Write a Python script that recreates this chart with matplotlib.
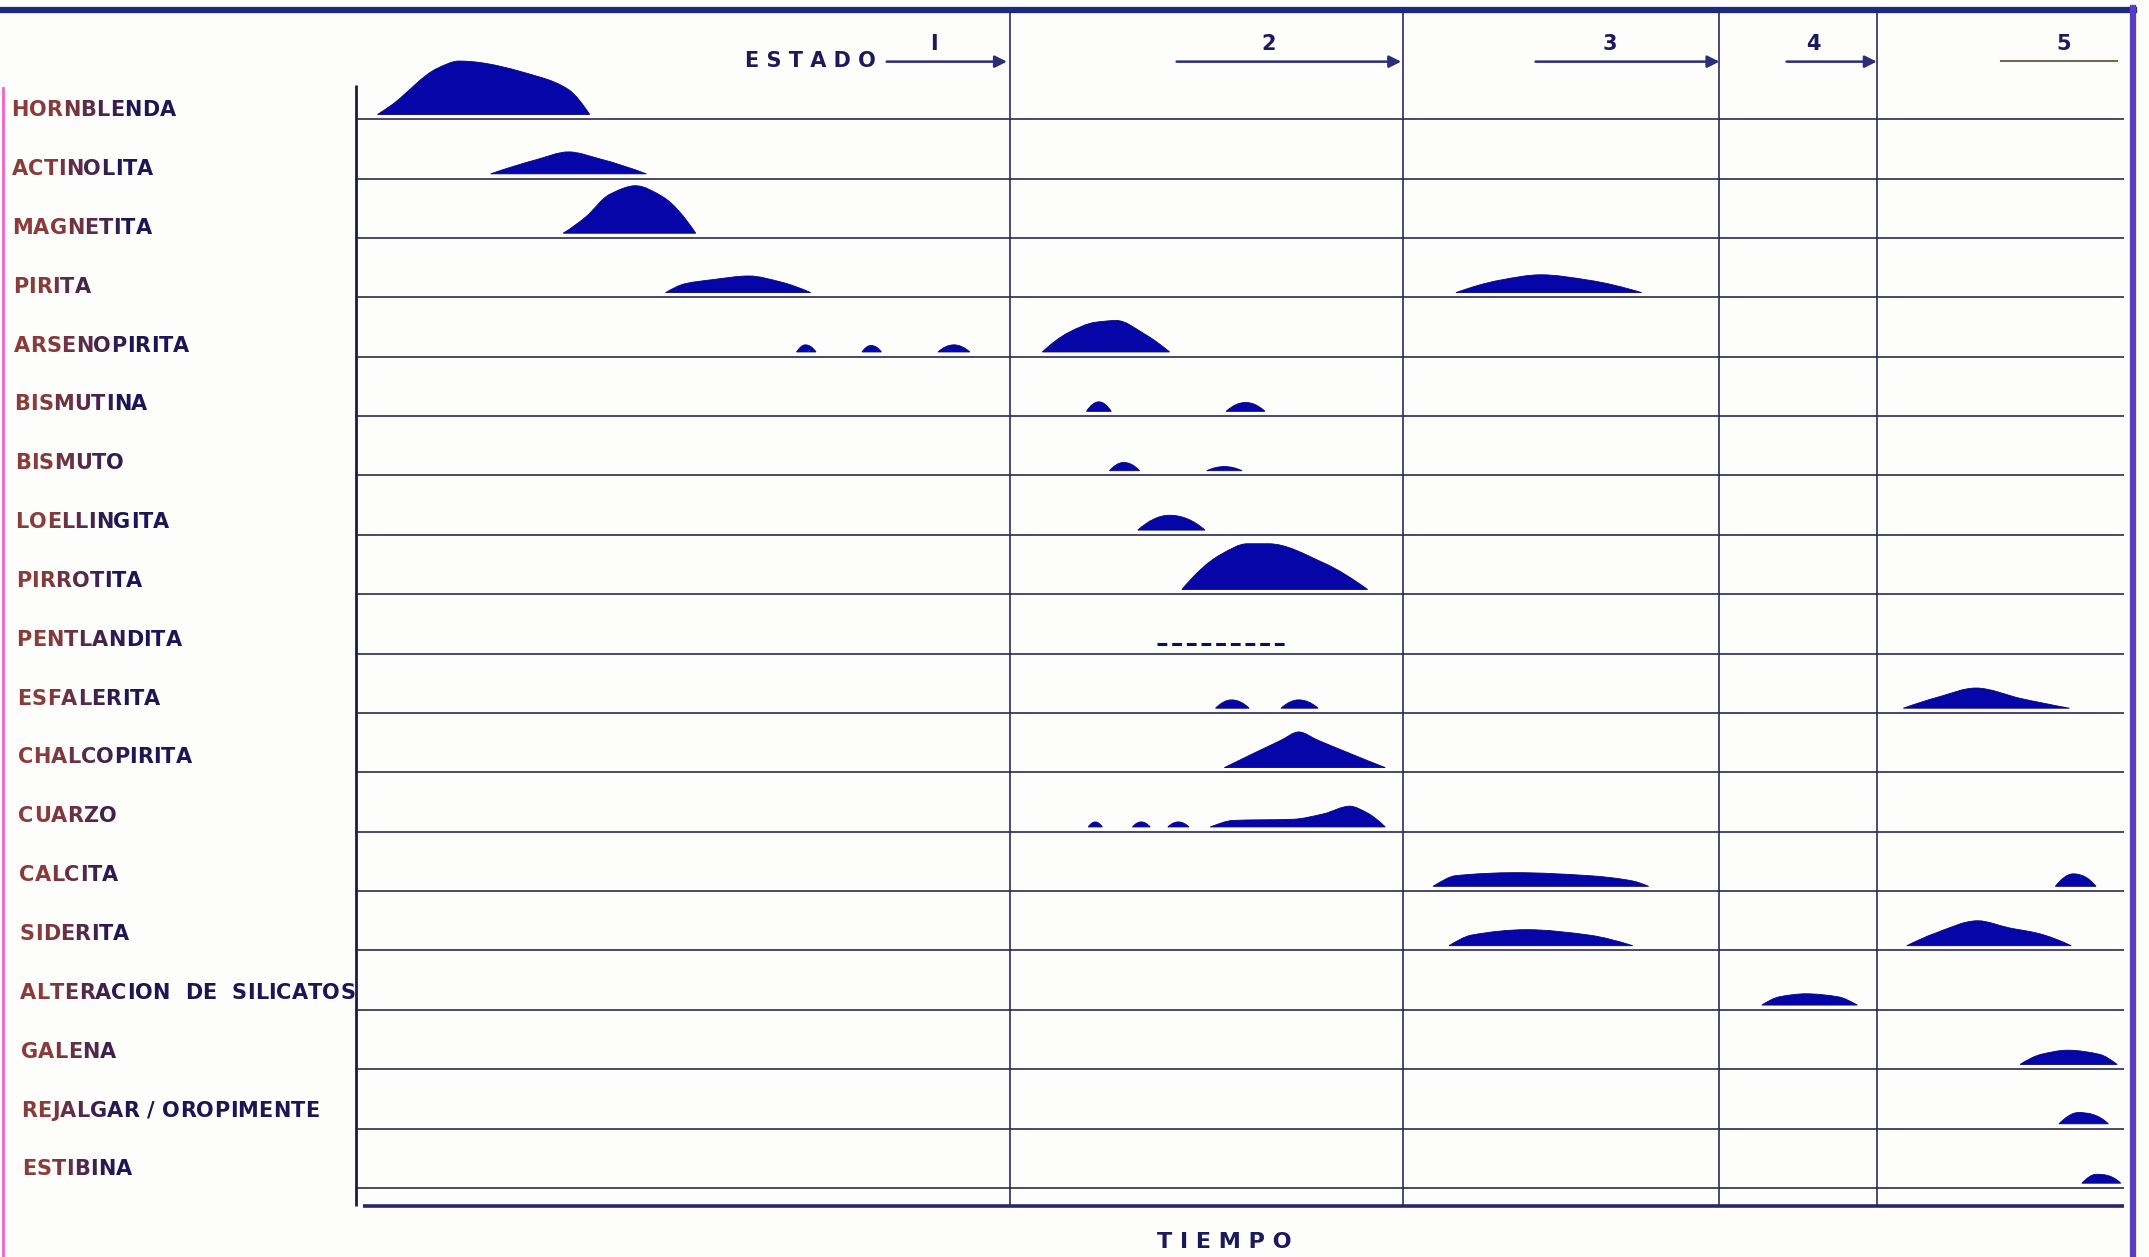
import numpy as np
import matplotlib.pyplot as plt
from matplotlib.path import Path
from matplotlib.patches import PathPatch
from matplotlib.lines import Line2D
from matplotlib.colors import to_rgb
import matplotlib.transforms as mtransforms

# minerals, top to bottom
minerals = ["HORNBLENDA", "ACTINOLITA", "MAGNETITA", "PIRITA", "ARSENOPIRITA",
            "BISMUTINA", "BISMUTO", "LOELLINGITA", "PIRROTITA", "PENTLANDITA",
            "ESFALERITA", "CHALCOPIRITA", "CUARZO", "CALCITA", "SIDERITA",
            "ALTERACION  DE  SILICATOS", "GALENA", "REJALGAR / OROPIMENTE", "ESTIBINA"]

# each mound: (tiempo 0-100, abundancia relativa)
hornblenda = [[(1.2, 0), (2.0, 0.16), (4.6, 0.78), (5.8, 0.90), (10.5, 0.62), (12.0, 0.42), (13.2, 0)]]
actinolita = [[(7.6, 0), (10.2, 0.24), (12.0, 0.37), (13.8, 0.25), (16.4, 0)]]
magnetita = [[(11.7, 0), (13.0, 0.28), (14.3, 0.65), (15.8, 0.80), (17.3, 0.62), (19.2, 0)]]
pirita = [[(17.5, 0), (18.6, 0.15), (20.2, 0.22), (22.2, 0.28), (24.0, 0.18), (25.7, 0)],
          [(62.2, 0), (64.7, 0.21), (67.0, 0.30), (69.7, 0.21), (72.7, 0)]]
arsenopirita = [[(24.9, 0), (25.4, 0.12), (26.0, 0)],
                [(28.6, 0), (29.1, 0.11), (29.7, 0)],
                [(32.9, 0), (33.8, 0.12), (34.7, 0)],
                [(38.8, 0), (40.3, 0.33), (41.8, 0.50), (43.0, 0.53), (44.6, 0.30), (46.0, 0)]]
bismutina = [[(41.3, 0), (42.0, 0.16), (42.7, 0)], [(49.2, 0), (50.3, 0.15), (51.4, 0)]]
bismuto = [[(42.6, 0), (43.4, 0.14), (44.3, 0)], [(48.1, 0), (49.1, 0.07), (50.1, 0)]]
loellingita = [[(44.2, 0), (46.0, 0.25), (48.0, 0)]]
pirrotita = [[(46.7, 0), (48.9, 0.59), (50.4, 0.77), (51.6, 0.77), (54.7, 0.45), (57.2, 0)]]
pentlandita = []
esfalerita = [[(48.6, 0), (49.5, 0.14), (50.5, 0)],
              [(52.3, 0), (53.3, 0.14), (54.4, 0)],
              [(87.5, 0), (89.5, 0.19), (91.6, 0.34), (94.2, 0.16), (96.9, 0)]]
chalcopirita = [[(49.1, 0), (52.3, 0.46), (53.3, 0.60), (54.4, 0.46), (58.2, 0)]]
cuarzo = [[(41.4, 0), (41.8, 0.085), (42.2, 0)],
          [(43.9, 0), (44.4, 0.085), (44.9, 0)],
          [(45.9, 0), (46.5, 0.085), (47.1, 0)],
          [(48.3, 0), (49.6, 0.11), (53.0, 0.13), (54.7, 0.22), (56.2, 0.35), (57.1, 0.25), (58.2, 0)]]
calcita = [[(60.9, 0), (62.2, 0.18), (65.6, 0.23), (69.7, 0.18), (72.2, 0.09), (73.1, 0)],
           [(96.1, 0), (97.1, 0.21), (98.4, 0)]]
siderita = [[(61.8, 0), (63.1, 0.18), (66.2, 0.27), (69.7, 0.18), (72.2, 0)],
            [(87.7, 0), (89.3, 0.21), (91.7, 0.42), (93.5, 0.30), (95.1, 0.21), (97.0, 0)]]
alteracion = [[(79.5, 0), (80.5, 0.14), (82.0, 0.19), (83.8, 0.14), (84.9, 0)]]
galena = [[(94.1, 0), (95.3, 0.17), (96.8, 0.24), (98.6, 0.17), (99.6, 0)]]
rejalgar = [[(96.3, 0), (97.4, 0.19), (99.1, 0)]]
estibina = [[(97.6, 0), (98.4, 0.15), (99.8, 0)]]

profiles = [hornblenda, actinolita, magnetita, pirita, arsenopirita, bismutina, bismuto,
            loellingita, pirrotita, pentlandita, esfalerita, chalcopirita, cuarzo, calcita,
            siderita, alteracion, galena, rejalgar, estibina]

# pentlandita shown only as a dashed trace
pentlandita_trace = (45.3, 52.6)

# stages
stage_bounds = [37.0, 59.2, 77.1, 86.0]
stage_names = ["I", "2", "3", "4", "5"]
stage_name_x = [32.7, 51.6, 70.9, 82.4, 96.6]
stage_arrows = [(30.0, 36.8), (46.4, 59.1), (66.7, 77.1), (80.9, 86.0)]
stage5_line = (93.0, 99.6)

BLUE = "#0505a8"
NAVY = "#1c1a5c"


def pchip_slopes(x, h):
    x = np.asarray(x, float)
    h = np.asarray(h, float)
    dx = np.diff(x)
    d = np.diff(h) / dx
    n = len(x)
    m = np.zeros(n)
    for k in range(1, n - 1):
        if d[k - 1] * d[k] > 0:
            w1 = 2 * dx[k] + dx[k - 1]
            w2 = dx[k] + 2 * dx[k - 1]
            m[k] = (w1 + w2) / (w1 / d[k - 1] + w2 / d[k])

    def end(h0, h1, d0, d1):
        s = ((2 * h0 + h1) * d0 - h0 * d1) / (h0 + h1)
        if np.sign(s) != np.sign(d0):
            return 0.0
        if np.sign(d0) != np.sign(d1) and abs(s) > abs(3 * d0):
            return 3 * d0
        return s

    m[0] = end(dx[0], dx[1], d[0], d[1])
    m[-1] = end(dx[-1], dx[-2], d[-1], d[-2])
    return m


def draw_mound(ax, pts, row, off=0.08):
    x = [p[0] for p in pts]
    h = [p[1] for p in pts]
    m = pchip_slopes(x, h)
    base = row - off
    verts = [(x[0], base - h[0])]
    codes = [Path.MOVETO]
    for k in range(len(x) - 1):
        dx = x[k + 1] - x[k]
        verts += [(x[k] + dx / 3, base - (h[k] + m[k] * dx / 3)),
                  (x[k + 1] - dx / 3, base - (h[k + 1] - m[k + 1] * dx / 3)),
                  (x[k + 1], base - h[k + 1])]
        codes += [Path.CURVE4] * 3
    verts.append((x[0], base))
    codes.append(Path.CLOSEPOLY)
    ax.add_patch(PathPatch(Path(verts, codes), facecolor=BLUE, edgecolor="#06067a",
                           lw=0.6, zorder=3))


def label_color(pos):
    # the old print fades from a brownish red on the left to navy
    a = np.array(to_rgb("#8a3b3a"))
    b = np.array(to_rgb("#1e1556"))
    t = np.clip((pos - 0.02) / 0.04, 0, 1)
    return tuple(a + (b - a) * t)


fig = plt.figure(figsize=(21.49, 12.57), dpi=100, facecolor="#fdfdfb")
ax = fig.add_axes([0.1658, 0.0403, 0.8227, 0.951])
ax.set_xlim(0, 100)
ax.set_ylim(18.31, -1.824)
ax.axis("off")

rows = np.arange(len(minerals))

# grid
ax.hlines(rows, 0, 100, color="#3c3c5c", lw=1.3, zorder=1)
ax.vlines(stage_bounds, -1.824, 18.31, color="#2c2c5e", lw=1.2, zorder=1)
ax.vlines(0, -0.58, 18.31, color="#1c1c44", lw=2.0, zorder=2, clip_on=False)
ax.hlines(18.31, 0.4, 100, color="#27276e", lw=2.6, zorder=2, clip_on=False)

# mounds
for r, shapes in zip(rows, profiles):
    for pts in shapes:
        draw_mound(ax, pts, r)

prow = minerals.index("PENTLANDITA")
ax.plot(pentlandita_trace, [prow - 0.16] * 2, color="#10105a", lw=2.2,
        linestyle=(0, (3.2, 1.6)), zorder=3)

# mineral labels, letter by letter so the faded colour can run along them
trans = mtransforms.blended_transform_factory(fig.transFigure, ax.transData)
for r, name in zip(rows, minerals):
    x0 = 0.0052 + 0.00028 * r
    prev = ax.text(x0, r - 0.05 - 0.009 * r, name[0], transform=trans, ha="left",
                   va="baseline", fontsize=15, fontweight="bold",
                   color=label_color(x0), clip_on=False)
    for i, ch in enumerate(name[1:], start=1):
        prev = ax.annotate(ch, xy=(1, 0), xycoords=prev, xytext=(0.15, 0),
                           textcoords="offset points", ha="left", va="bottom",
                           fontsize=15, fontweight="bold",
                           color=label_color(x0 + i * 0.0077), annotation_clip=False)

# header
ax.text(25.7, -0.98, "E S T A D O", ha="center", va="center", fontsize=15,
        fontweight="bold", color=NAVY, clip_on=False)
for x, name in zip(stage_name_x, stage_names):
    ax.text(x, -1.27, name, ha="center", va="center", fontsize=15,
            fontweight="bold", color=NAVY, clip_on=False)
for x0, x1 in stage_arrows:
    ax.annotate("", xy=(x1, -0.97), xytext=(x0, -0.97),
                arrowprops=dict(arrowstyle="-|>", color="#2c2c78", lw=1.8,
                                mutation_scale=18, shrinkA=0, shrinkB=0))
ax.plot(stage5_line, [-0.98, -0.98], color="#6e6a55", lw=1.5)

ax.text(49.1, 18.91, "T I E M P O", ha="center", va="center", fontsize=16,
        fontweight="bold", color=NAVY, clip_on=False)

# sheet borders
fig.add_artist(Line2D([0, 0.993], [0.9918, 0.9918], color="#1b2a80", lw=4.5))
fig.add_artist(Line2D([0.9925, 0.9925], [0.0, 0.994], color="#5a3cc0", lw=4.5))
fig.add_artist(Line2D([0.0012, 0.0012], [0.0, 0.93], color="#f060d0", lw=2.0))

fig.savefig("out.png", dpi=100, facecolor=fig.get_facecolor())
